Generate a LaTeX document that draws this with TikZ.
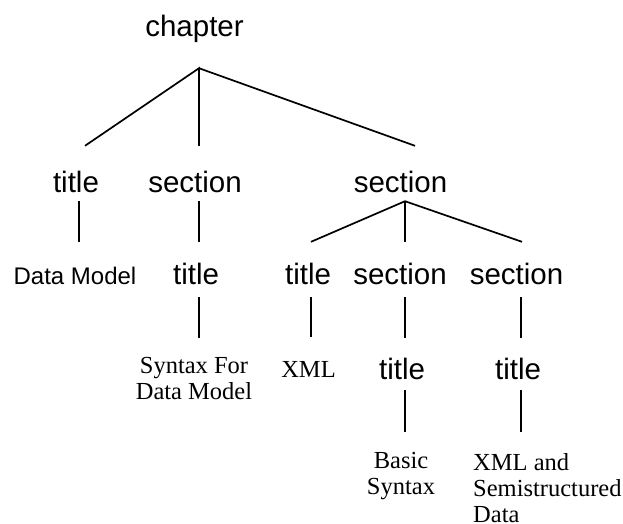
\documentclass[tikz,border=0pt]{standalone}
\usepackage{fontspec}
\setmainfont{Liberation Serif}
\setsansfont{Liberation Sans}

\begin{document}
\begin{tikzpicture}[x=1pt,y=-1pt,
  tag/.style={font=\sffamily\fontsize{29.5}{34}\selectfont, inner sep=0pt, anchor=base},
  smalltag/.style={font=\sffamily\fontsize{24}{28}\selectfont, inner sep=0pt, anchor=base},
  leaf/.style={font=\rmfamily\fontsize{24.5}{26}\selectfont, inner sep=0pt, anchor=north, align=center},
  lv0/.style={text height=20pt, text depth=32pt},
  lv1/.style={text height=46pt, text depth=9pt},
  lv2/.style={text height=42pt, text depth=13pt},
  lv3/.style={text height=41pt, text depth=11pt},
  edge/.style={line width=1.7pt}]
\useasboundingbox (0,0) rectangle (623,523);

% element nodes (sans serif)
\node[tag,lv0] (chapter) at (194.5,36) {chapter};
\node[tag,lv1] (t1) at (76,192) {title};
\node[tag,lv1] (s1) at (195,192) {section};
\node[tag,lv1] (s2) at (400.5,192) {section};
\node[smalltag,lv2] (dm) at (75,284) {Data Model};
\node[tag,lv2] (t2) at (196,284) {title};
\node[tag,lv2] (t3) at (308,284) {title};
\node[tag,lv2] (s3) at (400,284) {section};
\node[tag,lv2] (s4) at (516.5,284) {section};
\node[tag,lv3] (t4) at (402,379) {title};
\node[tag,lv3] (t5) at (518,379) {title};

% text leaves (serif)
\node[leaf] (sf) at (194,338) {\rule{0pt}{35pt}Syntax For\\Data Model};
\node[leaf] (xml) at (308.5,337) {\rule{0pt}{40pt}XML};
\node[leaf] (bs) at (401,432) {\rule{0pt}{36pt}Basic\\Syntax};
\node[leaf,anchor=north west,align=left] (xs) at (473,432) {\rule{0pt}{38pt}XML and\\Semistructured\\Data};

% tree edges
\draw[edge] ([xshift=9pt]t1.north) -- ([xshift=4.5pt]chapter.south) -- ([xshift=4pt]s1.north);
\draw[edge] ([xshift=4.5pt]chapter.south) -- ([xshift=14.5pt]s2.north);
\draw[edge] ([xshift=3pt]t1.south) -- ([xshift=4pt]dm.north);
\draw[edge] ([xshift=4pt]s1.south) -- ([xshift=3pt]t2.north);
\draw[edge] ([xshift=3pt]t2.south) -- ([xshift=5pt]sf.north);
\draw[edge] ([xshift=3pt]t3.north) -- ([xshift=4.5pt]s2.south) -- ([xshift=5.5pt]s4.north);
\draw[edge] ([xshift=4.5pt]s2.south) -- ([xshift=5pt]s3.north);
\draw[edge] ([xshift=3pt]t3.south) -- ([xshift=2.5pt]xml.north);
\draw[edge] ([xshift=5pt]s3.south) -- ([xshift=3pt]t4.north);
\draw[edge] ([xshift=4.5pt]s4.south) -- ([xshift=3pt]t5.north);
\draw[edge] ([xshift=3pt]t4.south) -- ([xshift=4pt]bs.north);
\draw[edge] ([xshift=3pt]t5.south) -- ([xshift=48pt]xs.north west);
\end{tikzpicture}
\end{document}
